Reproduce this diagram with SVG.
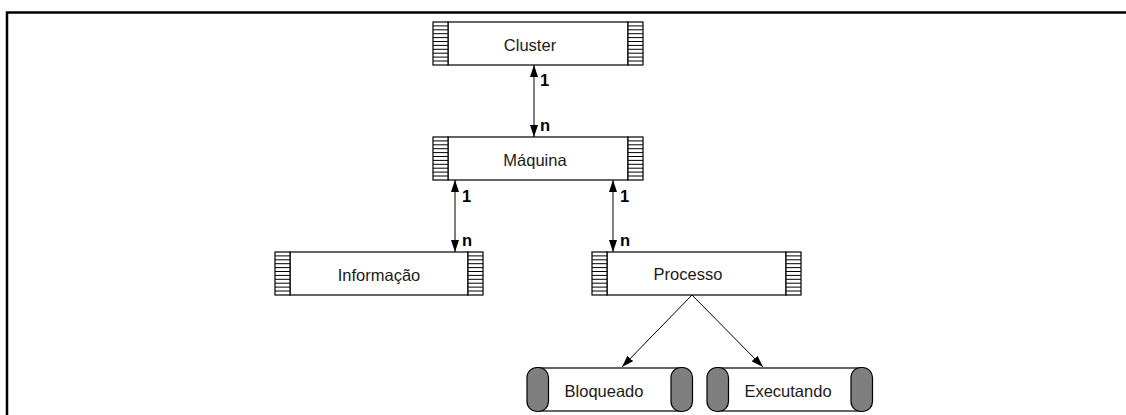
<svg xmlns="http://www.w3.org/2000/svg" xmlns:xlink="http://www.w3.org/1999/xlink" width="1126" height="415" viewBox="0 0 1126 415">
<style>
.box{fill:#fff;stroke:#000;stroke-width:1.2}
.lbl{font-family:"Liberation Sans",Arial,sans-serif;font-size:16.5px;fill:#1a1a1a}
.card{font-family:"Liberation Sans",Arial,sans-serif;font-size:16.5px;font-weight:bold;fill:#000}
.conn{stroke:#000;stroke-width:1;fill:none}
.cap{fill:#7f7f7f;stroke:#000;stroke-width:1.2}
</style>
<defs>
<g id="hatch">
<rect x="0" y="0" width="15" height="43" fill="#fff" stroke="#000" stroke-width="1.2"/>
<path d="M0,3.9H15M0,7.8H15M0,11.7H15M0,15.6H15M0,19.5H15M0,23.4H15M0,27.3H15M0,31.2H15M0,35.1H15M0,39H15" stroke="#000" stroke-width="1"/>
</g>
<marker id="ah" viewBox="0 0 12 8" refX="12" refY="4" markerWidth="12" markerHeight="8" markerUnits="userSpaceOnUse" orient="auto-start-reverse">
<path d="M0,0L12,4L0,8z" fill="#000"/>
</marker>
</defs>
<path d="M7,415V12.5H1126" fill="none" stroke="#000" stroke-width="2.5"/>
<g id="cluster">
<rect class="box" x="448" y="22" width="180" height="43"/>
<use xlink:href="#hatch" x="433" y="22"/>
<use xlink:href="#hatch" x="628" y="22"/>
<text class="lbl" x="530" y="51" text-anchor="middle">Cluster</text>
</g>
<g id="maquina">
<rect class="box" x="448" y="137" width="180" height="43"/>
<use xlink:href="#hatch" x="433" y="137"/>
<use xlink:href="#hatch" x="628" y="137"/>
<text class="lbl" x="535" y="166" text-anchor="middle">Máquina</text>
</g>
<g id="informacao">
<rect class="box" x="290" y="252" width="178" height="43"/>
<use xlink:href="#hatch" x="275" y="252"/>
<use xlink:href="#hatch" x="468" y="252"/>
<text class="lbl" x="379" y="281" text-anchor="middle">Informação</text>
</g>
<g id="processo">
<rect class="box" x="607" y="252" width="179" height="43"/>
<use xlink:href="#hatch" x="592" y="252"/>
<use xlink:href="#hatch" x="786" y="252"/>
<text class="lbl" x="688" y="280" text-anchor="middle">Processo</text>
</g>
<g id="bloqueado">
<rect class="box" x="537" y="368" width="145" height="43"/>
<rect class="cap" x="527" y="367.5" width="21.5" height="44" rx="10" ry="10"/>
<rect class="cap" x="671" y="367.5" width="21.5" height="44" rx="10" ry="10"/>
<text class="lbl" x="604" y="397" text-anchor="middle">Bloqueado</text>
</g>
<g id="executando">
<rect class="box" x="717" y="368" width="145" height="43"/>
<rect class="cap" x="707" y="367.5" width="21.5" height="44" rx="10" ry="10"/>
<rect class="cap" x="851" y="367.5" width="21.5" height="44" rx="10" ry="10"/>
<text class="lbl" x="788" y="397" text-anchor="middle">Executando</text>
</g>
<g id="connectors">
<line class="conn" x1="534" y1="65" x2="534" y2="137" marker-start="url(#ah)" marker-end="url(#ah)"/>
<line class="conn" x1="455" y1="180" x2="455" y2="252" marker-start="url(#ah)" marker-end="url(#ah)"/>
<line class="conn" x1="613" y1="180" x2="613" y2="252" marker-start="url(#ah)" marker-end="url(#ah)"/>
<line class="conn" x1="692" y1="295" x2="622" y2="367" marker-end="url(#ah)"/>
<line class="conn" x1="692" y1="295" x2="763" y2="367" marker-end="url(#ah)"/>
<text class="card" x="540" y="86">1</text>
<text class="card" x="540" y="131">n</text>
<text class="card" x="462" y="202">1</text>
<text class="card" x="462" y="246">n</text>
<text class="card" x="620" y="202">1</text>
<text class="card" x="620" y="246">n</text>
</g>
</svg>
